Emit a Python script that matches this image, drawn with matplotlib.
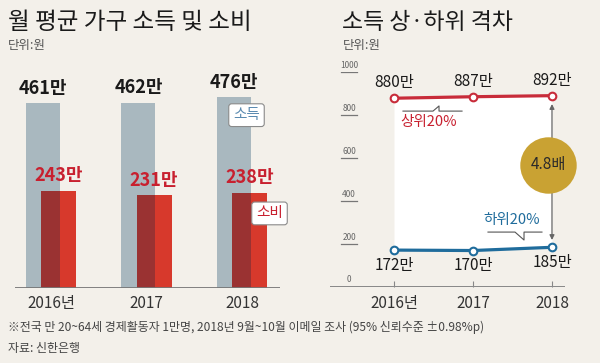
import matplotlib
matplotlib.use('Agg')
import matplotlib.pyplot as plt
import matplotlib.transforms as mtransforms

plt.rcParams['font.family'] = ['Noto Sans CJK KR', 'DejaVu Sans']

# left chart data
years_left = ['2016년', '2017', '2018']
income = [461, 462, 476]
spending = [243, 231, 238]

# right chart data
years_right = ['2016년', '2017', '2018']
top20 = [880, 887, 892]
bottom20 = [172, 170, 185]
ratio_label = '4.8배'
right_yticks = [0, 200, 400, 600, 800, 1000]

bg = '#f3f0ea'
gray_bar = '#a9b8bf'
red_bar = '#d7392c'
dark_red = '#9a3232'
red_txt = '#c8202f'
red_line = '#c82c3a'
blue_line = '#1f6c9c'
gold = '#c9a233'

fig = plt.figure(figsize=(6, 3.63), dpi=100, facecolor=bg)

# ---------------- left: bars ----------------
ax1 = fig.add_axes([0.025, 0.2066, 0.4417, 0.6628])
ax1.set_facecolor('none')
x = range(len(years_left))
gw, gofs = 0.356, -0.084
rw, rofs = 0.366, 0.079
gx = [i + gofs for i in x]
rx = [i + rofs for i in x]
ax1.bar(gx, income, width=gw, color=gray_bar, zorder=1)
ax1.bar(rx, spending, width=rw, color=red_bar, zorder=2)
# darker part where red overlaps grey
ovl = (rofs - rw / 2, gofs + gw / 2)
ax1.bar([i + (ovl[0] + ovl[1]) / 2 for i in x], spending, width=ovl[1] - ovl[0],
        color=dark_red, zorder=3)
for i in x:
    ax1.annotate('%d만' % income[i], (gx[i], income[i]), xytext=(0, 4),
                 textcoords='offset points', ha='center', va='bottom',
                 fontsize=13, fontweight='bold', color='#1a1a1a')
    ax1.annotate('%d만' % spending[i], (rx[i], spending[i]), xytext=(0, 4),
                 textcoords='offset points', ha='center', va='bottom',
                 fontsize=13, fontweight='bold', color=red_txt)
ax1.text(2.047, 431, '소득', ha='center', va='center', fontsize=10.5, color='#5a8ab0',
         bbox=dict(boxstyle='round,pad=0.3,rounding_size=0.2', fc='white', ec='#8a8a8a', lw=0.8),
         zorder=5)
ax1.text(2.288, 186, '소비', ha='center', va='center', fontsize=10.5, color=red_txt,
         bbox=dict(boxstyle='round,pad=0.3,rounding_size=0.2', fc='white', ec='#8a8a8a', lw=0.8),
         zorder=5)
ax1.set_ylim(0, 600)
ax1.set_xlim(-0.377, 2.398)
ax1.axhline(0, color='#777777', lw=1.3, zorder=4)
for s in ax1.spines.values():
    s.set_visible(False)
ax1.set_yticks([])
ax1.set_xticks(list(x))
ax1.set_xticklabels(years_left, fontsize=11, color='#333333')
ax1.tick_params(axis='x', length=0, pad=5)

# ---------------- right: lines ----------------
ax2 = fig.add_axes([0.55, 0.2094, 0.3917, 0.5909])
ax2.set_facecolor('none')
xr = list(range(len(years_right)))
ax2.fill_between(xr, bottom20, top20, color='white', lw=0, zorder=1)
ax2.plot(xr, top20, color=red_line, lw=2.3, marker='o', ms=5.5, mfc='white',
         mec=red_line, mew=1.5, zorder=4)
ax2.plot(xr, bottom20, color=blue_line, lw=2.3, marker='o', ms=5.5, mfc='white',
         mec=blue_line, mew=1.5, zorder=4)
for i in xr:
    ax2.annotate('%d만' % top20[i], (i, top20[i]), xytext=(0, 5),
                 textcoords='offset points', ha='center', va='bottom',
                 fontsize=11, color='#1a1a1a')
    ax2.annotate('%d만' % bottom20[i], (i, bottom20[i]), xytext=(0, -5),
                 textcoords='offset points', ha='center', va='top',
                 fontsize=11, color='#1a1a1a')

# series callouts
ax2.plot([0.114, 0.494, 0.57, 0.57, 0.861], [820, 820, 844, 820, 820],
         color='#555555', lw=0.8, zorder=3)
ax2.text(0.443, 769, '상위20%', ha='center', va='center', fontsize=10.5,
         color=red_txt, zorder=5)
ax2.plot([1.19, 1.532, 1.646, 1.646, 1.873], [256, 256, 219, 256, 256],
         color='#555555', lw=0.8, zorder=3)
ax2.text(1.494, 312, '하위20%', ha='center', va='center', fontsize=10.5,
         color=blue_line, zorder=5)

# gap arrow and badge
ax2.annotate('', xy=(2, bottom20[-1] + 34), xytext=(2, top20[-1] - 39),
             arrowprops=dict(arrowstyle='<|-|>', color='#666666', lw=0.9,
                             mutation_scale=7, shrinkA=0, shrinkB=0), zorder=2)
ax2.scatter([1.95], [569], s=1650, color=gold, zorder=6, lw=0, clip_on=False)
ax2.text(1.95, 569, ratio_label, ha='center', va='center', fontsize=11,
         color='#2a2a2a', zorder=7)

ax2.set_ylim(0, 1000)
ax2.set_xlim(-0.81, 2.165)
for s in ax2.spines.values():
    s.set_visible(False)
ax2.axhline(0, color='#888888', lw=1.4, zorder=3)
ax2.set_yticks([])
ax2.set_xticks(xr)
ax2.set_xticklabels(years_right, fontsize=11, color='#333333')
ax2.tick_params(axis='x', direction='in', length=4, color='#888888', pad=6)

# small underlined y labels
trans = mtransforms.blended_transform_factory(ax2.transAxes, ax2.transData)
for v in right_yticks:
    ax2.text(0.081, v + 12, str(v), transform=trans, ha='center', va='bottom',
             fontsize=6, color='#666666')
    if v > 0:
        ax2.plot([0.047, 0.115], [v, v], transform=trans, color='#777777', lw=0.9)

# titles and notes
fig.text(0.0133, 0.939, '월 평균 가구 소득 및 소비', fontsize=17, va='center', color='#1a1a1a')
fig.text(0.0133, 0.876, '단위:원', fontsize=9, va='center', color='#555555')
fig.text(0.57, 0.939, '소득 상·하위 격차', fontsize=16.5, va='center', color='#1a1a1a')
fig.text(0.572, 0.876, '단위:원', fontsize=9, va='center', color='#555555')
fig.text(0.0133, 0.0992,
         '※전국 만 20~64세 경제활동자 1만명, 2018년 9월~10월 이메일 조사 (95% 신뢰수준 ±0.98%p)',
         fontsize=8.6, va='center', color='#444444')
fig.text(0.0133, 0.0413, '자료: 신한은행', fontsize=8.6, va='center', color='#444444')

plt.savefig('out.png', dpi=100, facecolor=bg)
